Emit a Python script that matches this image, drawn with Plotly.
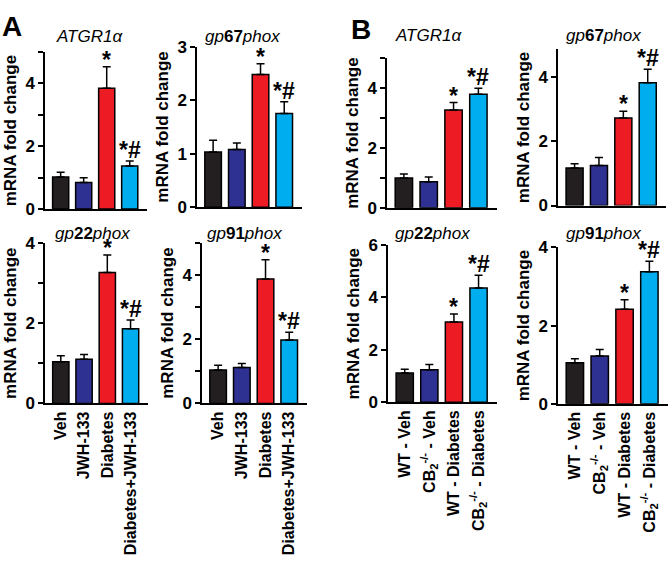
import plotly.graph_objects as go

W, H = 672, 570

# ---------------- data ----------------
groups_A = ["Veh", "JWH-133", "Diabetes", "Diabetes+JWH-133"]
groups_B = ["WT - Veh", "CB<sub>2</sub><sup>-/-</sup> - Veh",
            "WT - Diabetes", "CB<sub>2</sub><sup>-/-</sup> - Diabetes"]
bar_colors = ["#231f20", "#2e3192", "#ed1c24", "#00aeef"]
significance = ["", "", "*", "*#"]

title_atgr = "<i>ATGR1α</i>"
title_gp67 = "<i>gp</i><b>67</b><i>phox</i>"
title_gp22 = "<i>gp</i><b>22</b><i>phox</i>"
title_gp91 = "<i>gp</i><b>91</b><i>phox</i>"

A_atgr_mean = [1.02, 0.85, 3.85, 1.37]
A_atgr_sem = [0.15, 0.15, 0.68, 0.16]
A_gp67_mean = [1.03, 1.08, 2.48, 1.75]
A_gp67_sem = [0.22, 0.12, 0.20, 0.22]
A_gp22_mean = [1.04, 1.10, 3.26, 1.86]
A_gp22_sem = [0.15, 0.12, 0.44, 0.22]
A_gp91_mean = [1.04, 1.12, 3.87, 1.97]
A_gp91_sem = [0.15, 0.12, 0.60, 0.24]

B_atgr_mean = [1.00, 0.87, 3.27, 3.80]
B_atgr_sem = [0.13, 0.16, 0.25, 0.20]
B_gp67_mean = [1.17, 1.25, 2.73, 3.83]
B_gp67_sem = [0.13, 0.25, 0.21, 0.42]
B_gp22_mean = [1.11, 1.24, 3.06, 4.36]
B_gp22_sem = [0.15, 0.20, 0.31, 0.49]
B_gp91_mean = [1.05, 1.22, 2.42, 3.38]
B_gp91_sem = [0.10, 0.17, 0.24, 0.27]

# ---------------- layout of panels (pixel boxes) ----------------
panels = [
    dict(cats=groups_A, mean=A_atgr_mean, sem=A_atgr_sem, title=title_atgr,
         px=(45, 147), py=(44.5, 207), yr=(0, 5), dtick=2, minor=True, labels=False, tx=89, ty=28),
    dict(cats=groups_A, mean=A_gp67_mean, sem=A_gp67_sem, title=title_gp67,
         px=(197, 302), py=(39, 205), yr=(0, 3), dtick=1, minor=False, labels=False, tx=242, ty=28),
    dict(cats=groups_A, mean=A_gp22_mean, sem=A_gp22_sem, title=title_gp22,
         px=(45, 148), py=(242, 408), yr=(0, 4), dtick=2, minor=True, labels=True, tx=92, ty=232),
    dict(cats=groups_A, mean=A_gp91_mean, sem=A_gp91_sem, title=title_gp91,
         px=(202, 307), py=(241.7, 408), yr=(0, 5), dtick=2, minor=True, labels=True, tx=244, ty=232),
    dict(cats=groups_B, mean=B_atgr_mean, sem=B_atgr_sem, title=title_atgr,
         px=(387, 497), py=(51, 205.7), yr=(0, 5), dtick=2, minor=True, labels=False, tx=429, ty=27),
    dict(cats=groups_B, mean=B_gp67_mean, sem=B_gp67_sem, title=title_gp67,
         px=(558, 666), py=(41.7, 203.3), yr=(0, 4.87), dtick=2, minor=False, labels=False, tx=603, ty=27),
    dict(cats=groups_B, mean=B_gp22_mean, sem=B_gp22_sem, title=title_gp22,
         px=(388, 497), py=(244.3, 406.7), yr=(0, 6), dtick=2, minor=False, labels=True, tx=432, ty=232),
    dict(cats=groups_B, mean=B_gp91_mean, sem=B_gp91_sem, title=title_gp91,
         px=(558, 668), py=(246.7, 408.3), yr=(0, 4), dtick=2, minor=False, labels=True, tx=603, ty=232),
]

FONT = "Liberation Sans, Arial, sans-serif"
fig = go.Figure()
annotations = []
layout = {}

for i, p in enumerate(panels, start=1):
    xa = "x" if i == 1 else f"x{i}"
    ya = "y" if i == 1 else f"y{i}"
    fig.add_trace(go.Bar(
        x=p["cats"], y=p["mean"], xaxis=xa, yaxis=ya,
        marker=dict(color=bar_colors, line=dict(color="black", width=1.5)),
        width=0.7,
        error_y=dict(type="data", symmetric=False, array=p["sem"],
                     arrayminus=[0] * len(p["sem"]),
                     color="black", thickness=1.5, width=4),
        showlegend=False,
    ))
    xdom = [p["px"][0] / W, p["px"][1] / W]
    ydom = [1 - p["py"][1] / H, 1 - p["py"][0] / H]
    layout["xaxis" if i == 1 else f"xaxis{i}"] = dict(
        domain=xdom, anchor=ya, range=[-0.68, 3.75],
        showline=True, linecolor="black", linewidth=1.5, ticks="",
        showticklabels=p["labels"], tickangle=-90,
        tickfont=dict(family=FONT, size=16, color="black", weight="bold"),
        showgrid=False, zeroline=False, fixedrange=True,
    )
    yax = dict(
        domain=ydom, anchor=xa, range=list(p["yr"]),
        showline=True, linecolor="black", linewidth=1.5,
        ticks="outside", ticklen=5, tickwidth=1.5, tickcolor="black",
        tick0=0, dtick=p["dtick"],
        tickfont=dict(family=FONT, size=17, color="black", weight="bold"),
        showgrid=False, zeroline=False, fixedrange=True,
        title=dict(text="mRNA fold change", standoff=4,
                   font=dict(family=FONT, size=17, color="black", weight="bold")),
    )
    if p["minor"]:
        yax["minor"] = dict(dtick=1, tick0=0, ticks="outside", ticklen=5,
                            tickwidth=1.5, tickcolor="black", showgrid=False)
    layout["yaxis" if i == 1 else f"yaxis{i}"] = yax

    annotations.append(dict(
        text=p["title"], x=p["tx"] / W, y=1 - p["ty"] / H, xref="paper", yref="paper",
        xanchor="center", yanchor="middle", showarrow=False,
        font=dict(family=FONT, size=17, color="black"),
    ))
    for c, m, s, lab in zip(p["cats"], p["mean"], p["sem"], significance):
        if lab:
            annotations.append(dict(
                text=lab, x=c, y=m + s, xref=xa, yref=ya,
                xanchor="center", yanchor="bottom",
                yshift=-8 if lab == "*" else -4, showarrow=False,
                font=dict(family=FONT, size=23, color="black", weight="bold"),
            ))

annotations.append(dict(text="A", x=0 / W, y=1 - 0 / H, xref="paper", yref="paper",
                        xanchor="left", yanchor="top", showarrow=False,
                        font=dict(family=FONT, size=28, color="black", weight="bold")))
annotations.append(dict(text="B", x=349 / W, y=1 - 3 / H, xref="paper", yref="paper",
                        xanchor="left", yanchor="top", showarrow=False,
                        font=dict(family=FONT, size=28, color="black", weight="bold")))

fig.update_layout(
    width=W, height=H, margin=dict(l=0, r=0, t=0, b=0),
    paper_bgcolor="white", plot_bgcolor="white",
    annotations=annotations, bargap=0.3,
    font=dict(family=FONT, color="black"),
    **layout,
)
fig.write_html("out.html", config={"displayModeBar": False},
               post_script="document.body.style.margin='0';")
